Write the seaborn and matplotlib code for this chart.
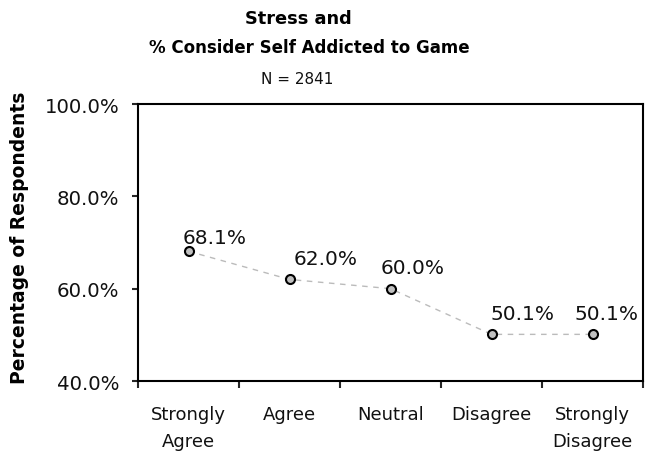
import matplotlib
matplotlib.use("Agg")
import matplotlib.pyplot as plt
import seaborn as sns
import pandas as pd
from matplotlib.ticker import FuncFormatter, FixedLocator, NullFormatter

categories = ["Strongly\nAgree", "Agree", "Neutral", "Disagree", "Strongly\nDisagree"]
values = [68.1, 62.0, 60.0, 50.1, 50.1]
yticks = [40, 60, 80, 100]

sns.set_theme(style="white")
plt.rcParams['font.family'] = ['DejaVu Sans']

W, H = 655, 456
TXT = "#111111"
df = pd.DataFrame({"cat": categories, "val": values})

fig = plt.figure(figsize=(6.55, 4.56), dpi=100)
ax = fig.add_axes([138 / W, 1 - 382 / H, (643 - 138) / W, (382 - 105) / H])

sns.lineplot(data=df, x="cat", y="val", ax=ax, color="#bbbbbb", linestyle=(0, (4, 4)),
             linewidth=1.0, marker="o", markersize=6.5, markerfacecolor="#c0c0c0",
             markeredgecolor="black", markeredgewidth=1.5, sort=False)

# label offsets in points (x: centre shift, y: baseline above point)
label_dx = [19, 26, 16, 22, 10]
label_dy = [6, 11, 11, 11, 11]
for i, v in enumerate(values):
    ax.annotate(f"{v:.1f}%", (i, v), xytext=(label_dx[i], label_dy[i]), textcoords="offset points",
                ha="center", va="baseline", fontsize=14.5, color=TXT)

ax.set_xlim(-0.5, 4.5)
ax.set_ylim(40, 100)
ax.set_yticks(yticks)
ax.yaxis.set_major_formatter(FuncFormatter(lambda v, p: f"{v:.1f}%"))
ax.tick_params(axis="y", which="major", left=True, length=4.5, width=1.5, direction="out",
               labelsize=14.2, labelcolor=TXT, pad=9)

ax.set_xticks(range(len(categories)))
ax.set_xticklabels(categories, fontsize=13, color=TXT, linespacing=1.65)
ax.tick_params(axis="x", which="major", length=0, pad=17)
ax.xaxis.set_minor_locator(FixedLocator([-0.5 + k for k in range(len(categories) + 1)]))
ax.xaxis.set_minor_formatter(NullFormatter())
ax.tick_params(axis="x", which="minor", bottom=True, length=5, width=1.5, direction="out")

for s in ax.spines.values():
    s.set_visible(True)
    s.set_color("black")
    s.set_linewidth(1.5)

ax.set_xlabel("")
ax.set_ylabel("")
fig.text(20 / W, 1 - 238 / H, "Percentage of Respondents", rotation=90, ha="center", va="center",
         fontsize=13.5, fontweight="bold", color="black")

fig.text(298 / W, 1 - 19 / H, "Stress and", ha="center", va="center", fontsize=12.8,
         fontweight="bold", color="black")
fig.text(309 / W, 1 - 48 / H, "% Consider Self Addicted to Game", ha="center", va="center",
         fontsize=12, fontweight="bold", color="black")
fig.text(297 / W, 1 - 79 / H, "N = 2841", ha="center", va="center", fontsize=11, color=TXT)

fig.savefig("out.png", dpi=100)
